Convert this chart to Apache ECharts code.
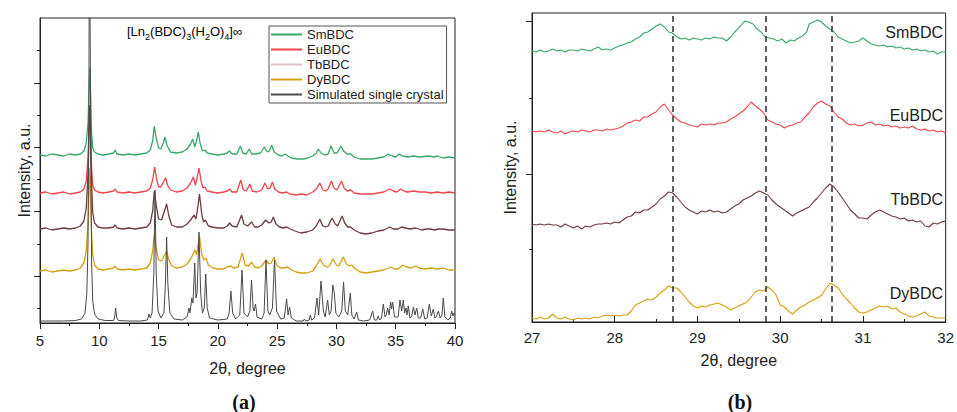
<!DOCTYPE html>
<html>
<head>
<meta charset="utf-8">
<script src="https://cdn.jsdelivr.net/npm/echarts@6/dist/echarts.min.js"></script>
<style>
  html, body { margin: 0; padding: 0; background: #fff; }
  #chart { width: 957px; height: 412px; }
</style>
</head>
<body>
<div id="chart"></div>
<script>
// ---- (a) full powder patterns, 2θ = 5..40° : [angle, intensity] ----
const smA = [[5,168],[5.5,167],[6,169],[6.5,168],[7,167],[7.5,169],[8,168],[8.4,169],[8.7,172],[8.9,180],[9.05,200],[9.15,240],[9.2,255],[9.27,230],[9.35,190],[9.45,175],[9.6,171],[9.9,169],[10.3,168],[10.8,169],[11.2,170],[11.35,173],[11.5,169],[12,168],[12.5,169],[13,168],[13.5,169],[14,170],[14.3,173],[14.5,182],[14.64,197],[14.8,185],[15,175],[15.2,174],[15.4,180],[15.54,186],[15.7,178],[16,171],[16.5,170],[17,171],[17.4,174],[17.7,179],[17.88,184],[18.05,176],[18.2,182],[18.35,191],[18.5,180],[18.7,172],[18.92,173],[19.1,170],[19.5,169],[20,168],[20.5,169],[20.8,170],[20.97,172],[21.2,169],[21.6,169],[21.9,177],[22.1,170],[22.4,169],[22.65,174],[22.85,169],[23.2,169],[23.6,170],[23.92,176],[24.15,171],[24.35,172],[24.54,178],[24.75,171],[25.1,168],[25.4,167],[25.66,169],[25.9,167],[26.2,165],[26.7,164],[27.2,164],[27.6,165],[28,167],[28.3,170],[28.47,174],[28.7,170],[29,168],[29.3,169],[29.54,177],[29.8,170],[30.05,170],[30.38,177],[30.6,172],[30.9,169],[31.2,169],[31.5,166],[32,164],[32.5,164],[33,164],[33.5,165],[34,166],[34.35,169],[34.7,167],[35,166],[35.28,169],[35.6,167],[36,166],[36.5,167],[37,166],[37.8,167],[38.2,166],[38.5,167],[39,165],[39.5,166],[40,165]];
const euA = [[5,130],[5.5,131],[6,129],[6.5,130],[7,131],[7.5,129],[8,130],[8.4,131],[8.7,134],[8.9,142],[9.05,165],[9.15,200],[9.2,213],[9.27,190],[9.35,155],[9.45,138],[9.6,133],[9.9,131],[10.3,130],[10.8,131],[11.2,132],[11.35,134],[11.5,131],[12,130],[12.5,131],[13,130],[13.5,131],[14,132],[14.3,135],[14.5,143],[14.67,156],[14.85,143],[15,136],[15.2,136],[15.4,141],[15.6,145],[15.75,138],[16,133],[16.5,131],[17,132],[17.4,135],[17.7,140],[17.93,146],[18.1,138],[18.25,145],[18.41,155],[18.6,141],[18.75,135],[18.9,136],[19.1,132],[19.5,131],[20,130],[20.5,131],[20.8,132],[21,134],[21.2,131],[21.6,131],[21.93,143],[22.15,133],[22.4,132],[22.7,139],[22.9,132],[23.3,131],[23.7,133],[23.97,140],[24.2,134],[24.4,135],[24.6,141],[24.8,134],[25.1,131],[25.5,130],[25.8,131],[26.1,129],[26.6,128],[27,129],[27.5,128],[28,131],[28.3,134],[28.6,140],[28.85,133],[29.1,132],[29.3,134],[29.57,142],[29.8,135],[30.05,133],[30.42,142],[30.65,135],[30.9,132],[31.2,133],[31.5,130],[32,129],[32.5,129],[33,129],[33.5,130],[34,131],[34.5,134],[34.8,132],[35.1,131],[35.4,134],[35.7,132],[36,131],[36.5,132],[37,131],[37.5,131],[38,130],[38.5,131],[39,130],[39.5,131],[40,130]];
const tbA = [[5,94],[5.5,95],[6,93],[6.5,94],[7,95],[7.5,94],[8,95],[8.4,97],[8.7,102],[8.9,115],[9.05,150],[9.15,200],[9.2,218],[9.27,185],[9.35,140],[9.45,110],[9.6,100],[9.9,96],[10.3,95],[10.8,95],[11.2,96],[11.35,98],[11.5,95],[12,94],[12.5,95],[13,94],[13.5,95],[14,96],[14.3,100],[14.5,112],[14.64,132],[14.8,118],[15,104],[15.25,103],[15.5,112],[15.68,119],[15.85,108],[16.1,98],[16.5,96],[17,96],[17.4,99],[17.7,103],[18,108],[18.15,104],[18.3,115],[18.45,129],[18.65,108],[18.8,101],[18.95,103],[19.2,97],[19.5,96],[20,95],[20.5,95],[20.8,97],[21,100],[21.2,97],[21.6,96],[22,108],[22.2,99],[22.5,97],[22.85,101],[23.1,96],[23.4,96],[23.7,98],[24.03,103],[24.3,100],[24.5,101],[24.68,106],[24.9,99],[25.2,96],[25.5,95],[25.8,96],[26.1,94],[26.5,92],[27,90],[27.5,91],[28,93],[28.3,97],[28.6,104],[28.85,97],[29.1,96],[29.3,97],[29.63,105],[29.9,99],[30.1,97],[30.48,107],[30.7,100],[30.95,96],[31.2,96],[31.5,93],[32,90],[32.5,89],[33,90],[33.5,92],[34,93],[34.5,96],[34.8,94],[35.2,94],[35.5,96],[35.8,95],[36.2,94],[36.7,95],[37.2,93],[37.6,94],[37.9,94],[38.3,93],[38.6,94],[39,94],[39.5,93],[40,93]];
const dyA = [[5,52],[5.5,53],[6,51],[6.5,52],[7,53],[7.5,52],[8,53],[8.4,55],[8.7,60],[8.9,72],[9.05,100],[9.15,140],[9.2,155],[9.27,125],[9.35,90],[9.45,68],[9.6,58],[9.9,54],[10.3,53],[10.8,54],[11.2,55],[11.35,57],[11.5,54],[12,53],[12.5,54],[13,53],[13.5,54],[14,55],[14.3,60],[14.5,72],[14.64,88],[14.8,75],[15,63],[15.25,62],[15.5,68],[15.68,72],[15.85,64],[16.1,57],[16.5,55],[17,56],[17.4,59],[17.7,64],[18.08,73],[18.2,68],[18.3,76],[18.45,87],[18.62,70],[18.8,63],[19,65],[19.2,58],[19.6,55],[20,54],[20.5,54],[20.8,56],[21.1,57],[21.3,55],[21.7,56],[22.06,70],[22.3,58],[22.6,57],[22.85,61],[23.1,56],[23.4,55],[23.7,57],[24.06,63],[24.3,59],[24.5,60],[24.74,66],[24.95,58],[25.3,55],[25.6,55],[25.9,56],[26.2,53],[26.6,51],[27,50],[27.5,50],[28,52],[28.3,57],[28.63,64],[28.9,58],[29.2,56],[29.4,57],[29.71,64],[30,58],[30.2,57],[30.57,66],[30.85,59],[31.1,57],[31.3,58],[31.6,54],[32,51],[32.5,50],[33,51],[33.5,52],[34,53],[34.6,56],[34.9,54],[35.2,54],[35.6,58],[35.9,56],[36.3,55],[36.7,57],[37,55],[37.5,54],[38,55],[38.5,54],[39,55],[39.5,53],[40,53]];
const simA = [[5,2],[7,2],[8,2.5],[8.5,4],[8.8,10],[8.95,30],[9.05,80],[9.12,200],[9.17,420],[9.22,420],[9.28,180],[9.35,60],[9.45,22],[9.6,9],[9.9,4],[10.5,2.5],[11.2,2.5],[11.3,6],[11.38,15],[11.46,6],[11.6,2.5],[12.5,2],[13.5,2],[14.05,3],[14.19,9],[14.3,5],[14.45,10],[14.6,50],[14.7,133],[14.8,50],[14.95,12],[15.2,5],[15.45,10],[15.58,40],[15.68,86],[15.78,40],[15.95,10],[16.3,4],[17,3],[17.4,6],[17.57,15],[17.65,10],[17.8,25],[17.9,20],[18.05,60],[18.15,25],[18.25,30],[18.41,91],[18.55,30],[18.7,10],[18.85,15],[18.98,49],[19.1,15],[19.3,5],[20,3],[20.8,4],[20.95,10],[21.1,32],[21.25,10],[21.5,4],[21.85,8],[22.04,53],[22.2,10],[22.5,6],[22.7,12],[22.84,43],[22.97,15],[23.05,12],[23.18,19],[23.3,6],[23.7,4],[23.9,10],[24.06,63],[24.22,12],[24.38,8],[24.6,15],[24.78,63],[24.95,12],[25.3,4],[25.6,5],[25.8,24],[25.92,8],[26.05,16],[26.2,5],[26.6,2],[27.2,2],[27.3,4],[27.4,2],[27.7,3],[27.8,8],[27.9,3],[28.15,5],[28.36,25],[28.5,8],[28.7,42],[28.9,12],[29.05,6],[29.26,23],[29.4,8],[29.55,12],[29.7,38],[29.82,30],[29.95,10],[30.2,6],[30.45,12],[30.6,41],[30.75,12],[30.95,8],[31.17,30],[31.3,8],[31.5,4],[31.71,11],[31.85,3],[32.3,2],[32.8,3],[33.06,12],[33.2,3],[33.4,3],[33.53,7],[33.65,3],[33.8,5],[33.95,19],[34.1,6],[34.2,8],[34.32,15],[34.45,8],[34.57,21],[34.66,14],[34.74,21],[34.9,6],[35.2,6],[35.36,23],[35.5,12],[35.64,23],[35.75,10],[35.87,15],[35.95,8],[36.06,17],[36.2,5],[36.35,7],[36.49,16],[36.62,8],[36.77,15],[36.9,5],[37.1,5],[37.28,14],[37.45,4],[37.65,5],[37.84,19],[38,7],[38.17,14],[38.3,5],[38.45,7],[38.6,12],[38.75,5],[38.9,8],[39.01,25],[39.15,6],[39.4,3],[39.6,5],[39.72,12],[39.82,7],[39.92,10],[40,8]];

// ---- (b) close-up of the 27..32° window ----
const smB = [[27,271],[27.05,270],[27.1,272],[27.15,270],[27.2,271],[27.25,273],[27.3,271],[27.35,272],[27.4,270],[27.45,272],[27.5,272],[27.55,271],[27.6,273],[27.65,272],[27.7,271],[27.75,273],[27.8,275],[27.85,272],[27.9,273],[27.95,272],[28,274],[28.05,276],[28.1,277],[28.15,279],[28.2,280],[28.25,283],[28.3,285],[28.35,289],[28.4,290],[28.45,293],[28.5,296],[28.55,298],[28.6,295],[28.65,290],[28.7,289],[28.75,285],[28.8,283],[28.85,284],[28.9,282],[28.95,284],[29,283],[29.05,282],[29.1,284],[29.15,283],[29.2,285],[29.25,284],[29.3,284],[29.35,281],[29.4,285],[29.45,290],[29.5,294],[29.55,299],[29.58,301],[29.62,300],[29.67,298],[29.72,293],[29.77,290],[29.82,285],[29.87,284],[29.92,283],[29.97,281],[30.02,283],[30.07,279],[30.12,282],[30.17,281],[30.22,284],[30.27,286],[30.32,290],[30.35,298],[30.4,300],[30.45,302],[30.5,300],[30.55,296],[30.6,293],[30.65,290],[30.7,285],[30.75,283],[30.8,281],[30.85,279],[30.9,280],[30.95,281],[31,284],[31.05,281],[31.1,278],[31.15,277],[31.2,276],[31.25,277],[31.3,275],[31.35,276],[31.4,274],[31.45,275],[31.5,273],[31.55,274],[31.6,272],[31.65,273],[31.7,271],[31.75,272],[31.8,270],[31.85,271],[31.9,268],[31.95,270],[32,270]];
const euB = [[27,191],[27.05,190],[27.1,191],[27.15,190],[27.2,192],[27.25,190],[27.3,189],[27.35,191],[27.4,188],[27.45,190],[27.5,191],[27.55,190],[27.6,192],[27.65,191],[27.7,190],[27.75,192],[27.8,192],[27.85,191],[27.9,193],[27.95,192],[28,193],[28.05,194],[28.1,196],[28.15,199],[28.2,200],[28.25,202],[28.3,201],[28.35,205],[28.4,205],[28.45,208],[28.5,210],[28.55,215],[28.6,218],[28.65,212],[28.7,207],[28.75,203],[28.8,200],[28.85,199],[28.9,197],[28.95,196],[29,195],[29.05,198],[29.1,197],[29.15,198],[29.2,197],[29.25,199],[29.3,199],[29.35,200],[29.4,203],[29.45,205],[29.5,208],[29.55,211],[29.6,215],[29.65,220],[29.7,216],[29.75,213],[29.8,209],[29.85,202],[29.9,200],[29.95,198],[30,197],[30.05,194],[30.1,196],[30.15,197],[30.2,199],[30.25,200],[30.3,205],[30.35,209],[30.4,215],[30.45,219],[30.5,221],[30.55,218],[30.6,216],[30.65,210],[30.7,205],[30.75,203],[30.8,199],[30.85,197],[30.9,198],[30.95,196],[31,197],[31.05,199],[31.1,200],[31.15,197],[31.2,198],[31.25,196],[31.3,197],[31.35,195],[31.4,196],[31.45,194],[31.5,195],[31.55,194],[31.6,196],[31.65,193],[31.7,192],[31.75,193],[31.8,191],[31.85,192],[31.9,190],[31.95,191],[32,189]];
const tbB = [[27,98],[27.05,97],[27.1,98],[27.15,97],[27.2,98],[27.25,97],[27.3,97],[27.35,95],[27.4,98],[27.45,96],[27.5,94],[27.55,96],[27.6,93],[27.65,96],[27.7,95],[27.75,97],[27.8,98],[27.85,98],[27.9,99],[27.95,98],[28,100],[28.05,99],[28.1,102],[28.15,105],[28.2,106],[28.25,110],[28.3,109],[28.35,112],[28.4,112],[28.45,115],[28.5,118],[28.55,123],[28.6,126],[28.65,130],[28.7,129],[28.75,125],[28.8,120],[28.85,115],[28.9,112],[28.95,110],[29,108],[29.05,111],[29.1,110],[29.15,112],[29.2,110],[29.25,111],[29.3,109],[29.35,110],[29.4,113],[29.45,116],[29.5,118],[29.55,122],[29.6,124],[29.65,126],[29.7,129],[29.75,131],[29.8,129],[29.85,127],[29.9,122],[29.95,118],[30,115],[30.05,112],[30.1,109],[30.15,106],[30.2,109],[30.25,111],[30.3,113],[30.35,115],[30.4,120],[30.45,124],[30.5,129],[30.55,134],[30.6,138],[30.65,135],[30.7,130],[30.75,124],[30.8,118],[30.85,112],[30.9,108],[30.95,104],[31,104],[31.05,103],[31.1,107],[31.15,110],[31.2,112],[31.25,110],[31.3,108],[31.35,106],[31.4,105],[31.45,103],[31.5,104],[31.55,101],[31.6,102],[31.65,100],[31.7,101],[31.75,96],[31.8,95],[31.85,99],[31.9,98],[31.95,100],[32,101]];
const dyB = [[27,4],[27.05,3],[27.1,5],[27.15,3],[27.2,4],[27.25,8],[27.3,4],[27.35,3],[27.4,5],[27.45,3],[27.5,2],[27.55,4],[27.6,3],[27.65,4],[27.7,3],[27.75,5],[27.8,4],[27.85,6],[27.9,7],[27.95,6],[28,7],[28.05,6],[28.1,7],[28.15,7],[28.2,11],[28.25,17],[28.3,19],[28.35,21],[28.4,23],[28.45,22],[28.5,25],[28.55,29],[28.6,32],[28.65,36],[28.7,34],[28.75,34],[28.8,30],[28.85,25],[28.9,20],[28.95,16],[29,14],[29.05,16],[29.1,15],[29.15,17],[29.2,18],[29.25,19],[29.3,17],[29.35,15],[29.4,12],[29.45,14],[29.5,16],[29.55,18],[29.6,20],[29.65,25],[29.7,30],[29.75,32],[29.8,31],[29.85,35],[29.9,32],[29.95,27],[30,17],[30.05,15],[30.1,11],[30.15,8],[30.2,12],[30.25,15],[30.3,17],[30.35,20],[30.4,22],[30.45,24],[30.5,27],[30.55,33],[30.6,39],[30.65,37],[30.7,34],[30.75,28],[30.8,23],[30.85,19],[30.9,14],[30.95,10],[31,9],[31.05,10],[31.1,12],[31.15,14],[31.2,16],[31.25,15],[31.3,16],[31.35,13],[31.4,14],[31.45,10],[31.5,8],[31.55,6],[31.6,5],[31.65,6],[31.7,8],[31.75,10],[31.8,6],[31.85,5],[31.9,4],[31.95,4],[32,4]];

// reference angles marked with dashed guides in (b)
const guideAngles = [28.70, 29.83, 30.62];

// series names and colours
const names = ['SmBDC', 'EuBDC', 'TbBDC', 'DyBDC', 'Simulated single crystal'];
const colors = ['#36a96b', '#f0454b', '#6e3c40', '#d4a012', '#4a4a4a'];
const legendLineColors = ['#36a96b', '#f0454b', '#dcc4c7', '#d4a012', '#4a4a4a'];

// y-axis tick positions (arbitrary intensity units)
const ticksA = { major: [47, 112, 176, 240], minor: [15, 79, 144, 208, 273] };
const ticksB = { major: [148, 301], minor: [73, 224] };

const FONT = 'Liberation Sans, Arial, Helvetica, sans-serif';
const INK = '#222';

const chart = echarts.init(document.getElementById('chart'), null, { renderer: 'svg' });

function lineSeries(name, data, color, xi, yi, width) {
  return {
    name, type: 'line', data, xAxisIndex: xi, yAxisIndex: yi,
    showSymbol: false, symbol: 'none', smooth: false,
    lineStyle: { color, width: width || 1 }, itemStyle: { color },
    emphasis: { disabled: true }, animation: false, clip: true
  };
}

const seriesA = [smA, euA, tbA, dyA, simA].map((d, i) =>
  lineSeries(names[i], d, colors[i], 0, 0, i === 4 ? 1 : 1.3));
const seriesB = [smB, euB, tbB, dyB].map((d, i) =>
  lineSeries(names[i], d, colors[i], 1, 2, 1.1));

seriesB[0].markLine = {
  silent: true, symbol: ['none', 'none'], label: { show: false },
  lineStyle: { color: '#3a3a3a', type: [6, 4], width: 1.6 },
  data: guideAngles.map(v => ({ xAxis: v }))
};

function yAxisPair(gridIndex, max, ticks, nameGap) {
  return [
    {
      type: 'value', gridIndex, min: 0, max, position: 'left',
      name: 'Intensity, a.u.', nameLocation: 'middle', nameGap, nameRotate: 90,
      nameTextStyle: { fontFamily: FONT, fontSize: 16, color: INK },
      axisLine: { show: true, lineStyle: { color: INK, width: 1 } },
      axisTick: { show: true, inside: false, length: 6, customValues: ticks.major, lineStyle: { color: INK } },
      axisLabel: { show: false }, splitLine: { show: false }
    },
    {
      type: 'value', gridIndex, min: 0, max, position: 'left',
      axisLine: { show: false },
      axisTick: { show: true, inside: false, length: 3, customValues: ticks.minor, lineStyle: { color: INK } },
      axisLabel: { show: false }, splitLine: { show: false }
    }
  ];
}

function xAxis(gridIndex, min, max, inside, labelMargin, nameGap) {
  return {
    type: 'value', gridIndex, min, max, interval: gridIndex === 0 ? 5 : 1,
    name: '2θ, degree', nameLocation: 'middle', nameGap,
    nameTextStyle: { fontFamily: FONT, fontSize: 16, color: INK },
    axisLine: { show: true, onZero: false, lineStyle: { color: INK, width: 1 } },
    axisTick: { show: true, inside, length: 6, lineStyle: { color: INK } },
    minorTick: { show: true, splitNumber: 2, length: 3, lineStyle: { color: INK } },
    axisLabel: { fontFamily: FONT, fontSize: 15, color: INK, margin: labelMargin },
    splitLine: { show: false }
  };
}

const sub = { fontFamily: FONT, fontSize: 9, color: INK, verticalAlign: 'bottom', lineHeight: 20 };
const base = { fontFamily: FONT, fontSize: 13, color: INK, verticalAlign: 'middle', lineHeight: 20 };

const labelTextsB = [
  { text: 'SmBDC', y: 32 },
  { text: 'EuBDC', y: 115 },
  { text: 'TbBDC', y: 199 },
  { text: 'DyBDC', y: 293 }
];

chart.setOption({
  animation: false,
  backgroundColor: '#fff',
  grid: [
    { left: 40, top: 18, width: 415, height: 305, show: true, borderColor: INK, borderWidth: 1, backgroundColor: 'transparent' },
    { left: 532, top: 13, width: 417, height: 309, show: true, borderColor: INK, borderWidth: 1, backgroundColor: 'transparent' }
  ],
  xAxis: [xAxis(0, 5, 40, false, 10, 37), xAxis(1, 27, 32, true, 8, 30)],
  yAxis: [...yAxisPair(0, 305, ticksA, 8), ...yAxisPair(1, 309, ticksB, 14)],
  legend: {
    left: 269, top: 26, orient: 'vertical',
    itemWidth: 31, itemHeight: 14, itemGap: 2,
    padding: [2, 3, 2, 1],
    borderColor: '#555', borderWidth: 1,
    textStyle: { fontFamily: FONT, fontSize: 13, color: INK },
    selectedMode: false,
    data: names.map((n, i) => ({
      name: n,
      lineStyle: { color: legendLineColors[i], width: 2 },
      itemStyle: { opacity: 0, borderWidth: 0 }
    }))
  },
  graphic: [
    {
      type: 'text', left: 127, top: 25,
      style: {
        text: '{b|[Ln}{s|2}{b|(BDC)}{s|3}{b|(H}{s|2}{b|O)}{s|4}{b|]∞}',
        rich: { b: base, s: sub }
      }
    },
    ...labelTextsB.map(t => ({
      type: 'text', x: 943, y: t.y,
      style: { text: t.text, fontFamily: FONT, fontSize: 16, fill: INK, align: 'right', verticalAlign: 'middle' }
    })),
    { type: 'text', x: 244, y: 402, style: { text: '(a)', fontFamily: 'Liberation Serif, Times New Roman, serif', fontWeight: 'bold', fontSize: 20, fill: '#111', align: 'center', verticalAlign: 'middle' } },
    { type: 'text', x: 740, y: 402, style: { text: '(b)', fontFamily: 'Liberation Serif, Times New Roman, serif', fontWeight: 'bold', fontSize: 20, fill: '#111', align: 'center', verticalAlign: 'middle' } }
  ],
  series: [...seriesA, ...seriesB]
});
</script>
</body>
</html>
